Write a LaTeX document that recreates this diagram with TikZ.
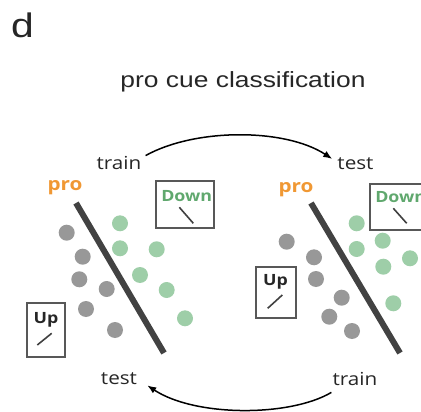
\documentclass[tikz,border=0pt]{standalone}
\usepackage{fontspec}
\usepackage{graphicx}
\setmainfont{Open Sans}
\newfontfamily\helv{Liberation Sans}
\usetikzlibrary{arrows.meta}
\newcommand\widen[1]{\scalebox{1.15}[1]{#1}}
\definecolor{proorange}{RGB}{240,152,52}
\definecolor{cuegreen}{RGB}{96,168,110}
\definecolor{dotgreen}{RGB}{158,206,168}
\definecolor{dotgray}{RGB}{152,152,152}
\definecolor{sepgray}{RGB}{66,66,66}
\definecolor{boxgray}{RGB}{88,88,88}
\definecolor{tickgray}{RGB}{64,64,64}
\definecolor{inkgray}{RGB}{38,38,38}
\begin{document}
\begin{tikzpicture}[x=1pt, y=-1pt,
  lbl/.style={anchor=base, inner sep=1pt, text=inkgray, font=\fontsize{18}{20}\selectfont},
  prolbl/.style={anchor=base, inner sep=1pt, text=proorange, font=\bfseries\fontsize{18}{20}\selectfont},
  cuelbl/.style={anchor=base, inner sep=0pt, text=inkgray, font=\bfseries\fontsize{15.5}{17}\selectfont},
  cuebox/.style={draw=boxgray, line width=1.2pt, inner sep=0pt},
  sepline/.style={draw=sepgray, line width=6pt},
  tickmark/.style={draw=tickgray, line width=1.6pt},
  flow/.style={line width=1.5pt, -{Latex[length=9pt,width=7pt]}},
  graydot/.style={fill=dotgray},
  greendot/.style={fill=dotgreen}]
\useasboundingbox (0,0) rectangle (421,412);
\clip (0,0) rectangle (421,412);

% panel letter and title
\node[anchor=base, inner sep=0pt, text=inkgray, font=\helv\fontsize{34}{36}\selectfont] (panel) at (22.5,38) {\scalebox{1.2}[1]{d}};
\node[anchor=base, inner sep=0pt, text=inkgray, font=\helv\fontsize{22}{26}\selectfont] (title) at (243,88) {\scalebox{1.2}[1]{pro cue classification}};

% left classifier
\foreach \p in {(66.7,232.7),(82.7,256.7),(79.3,279.3),(106.7,289),(86,309),(115,330)}
  \fill[graydot] \p circle[radius=8];
\foreach \p in {(120,223.3),(120,248.3),(156.7,249.3),(140,275),(166.7,290),(185,318.3)}
  \fill[greendot] \p circle[radius=8];
\draw[sepline] (76,203) -- (164,353);
\node[prolbl] (proL) at (65,190) {\widen{pro}};

\node[cuebox, minimum width=58pt, minimum height=47pt] (downL) at (185,204.5) {};
\node[cuelbl, text=cuegreen] (downLtxt) at (186.7,201.7) {\widen{Down}};
\draw[tickmark] (179.3,207.3) -- (193.3,223.3);

\node[cuebox, minimum width=38pt, minimum height=54pt] (upL) at (46,330) {};
\node[cuelbl] (upLtxt) at (46,323) {\widen{Up}};
\draw[tickmark] (37.3,345) -- (51.7,333.3);

% right classifier
\foreach \p in {(286.7,241.7),(314,257.3),(316,279),(341.7,297.7),(329.3,316.7),(352,331)}
  \fill[graydot] \p circle[radius=8];
\foreach \p in {(356.7,223.3),(382.7,240.7),(356.7,249),(410,258.3),(383.3,266.7),(393.3,303.3)}
  \fill[greendot] \p circle[radius=8];
\draw[sepline] (311,203) -- (400,353);
\node[prolbl] (proR) at (296,192) {\widen{pro}};

\node[cuebox, minimum width=58pt, minimum height=46pt] (downR) at (399,207) {};
\node[cuelbl, text=cuegreen] (downRtxt) at (400.7,202.5) {\widen{Down}};
\draw[tickmark] (393.3,208.3) -- (406.7,223.3);

\node[cuebox, minimum width=40pt, minimum height=51pt] (upR) at (276,292.5) {};
\node[cuelbl] (upRtxt) at (275.5,285) {\widen{Up}};
\draw[tickmark] (267.7,308.3) -- (282.3,295);

% train / test labels
\node[lbl] (trainL) at (119,170) {\widen{train}};
\node[lbl] (testR) at (355.5,170) {\widen{test}};
\node[lbl] (testL) at (119,384) {\widen{test}};
\node[lbl] (trainR) at (355,385) {\widen{train}};

% cross-validation arrows
\draw[flow] ([xshift=3pt]trainL.north east) .. controls (195,128) and (285,128) .. ([xshift=-4pt,yshift=-2pt]testR.north west);
\draw[flow] ([yshift=-6pt]trainR.south west) .. controls (290,417) and (195,417) .. ([xshift=9pt]testL.south east);
\end{tikzpicture}
\end{document}
